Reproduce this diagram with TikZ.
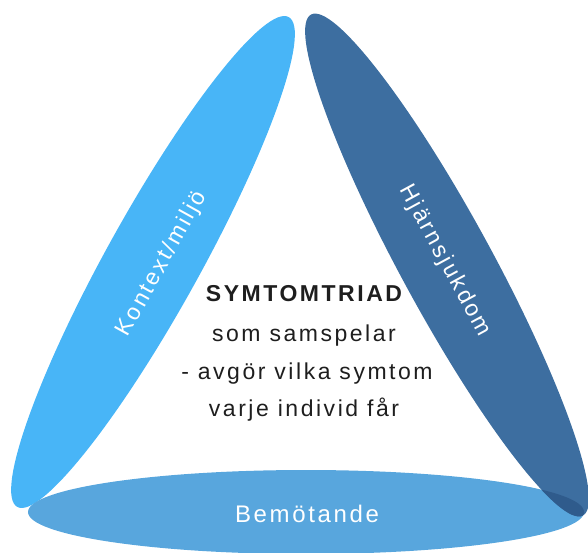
\documentclass[tikz,border=0pt]{standalone}
\usepackage{fontspec}
\setmainfont{Liberation Sans}[LetterSpace=11]
\definecolor{lightband}{HTML}{48B5F7}
\definecolor{darkband}{HTML}{3D6EA0}
\definecolor{bottomband}{HTML}{58A6DD}
\definecolor{overlapband}{HTML}{2F5B8C}
\definecolor{centertext}{HTML}{1E1E1E}
\tikzset{
  bandlabel/.style={text=white, font=\fontsize{23}{27}\selectfont, inner sep=0pt},
  centerline/.style={text=centertext, font=\fontsize{23}{27}\selectfont, inner sep=0pt, anchor=base}
}
\begin{document}
\begin{tikzpicture}[x=1pt,y=1pt]
\useasboundingbox (0,0) rectangle (588,-552);
% left band
\fill[lightband, rotate around={61:(153,-262)}] (153,-262) ellipse [x radius=280pt, y radius=47pt];
% bottom band
\fill[bottomband] (306,-512) ellipse [x radius=278pt, y radius=42pt];
% right band
\fill[darkband, rotate around={-61.5:(447,-265)}] (447,-265) ellipse [x radius=285pt, y radius=46pt];
\begin{scope}
  \clip (306,-512) ellipse [x radius=278pt, y radius=42pt];
  \fill[overlapband, rotate around={-61.5:(447,-265)}] (447,-265) ellipse [x radius=285pt, y radius=46pt];
\end{scope}
% labels
\node[bandlabel, rotate=61] (kontext) at (162,-264) {Kontext/miljö};
\node[bandlabel, rotate=-61.5] (hjarn) at (445,-261) {Hjärnsjukdom};
\node[bandlabel, font=\fontsize{24}{28}\selectfont] (bemot) at (307,-514) {Bemötande};
% center text
\node[centerline, font=\fontsize{23}{27}\bfseries] (title) at (304,-301) {SYMTOMTRIAD};
\node[centerline] (l2) at (304,-341) {som samspelar};
\node[centerline] (l3) at (307,-379) {- avgör vilka symtom};
\node[centerline] (l4) at (304,-416) {varje individ får};
\end{tikzpicture}
\end{document}
